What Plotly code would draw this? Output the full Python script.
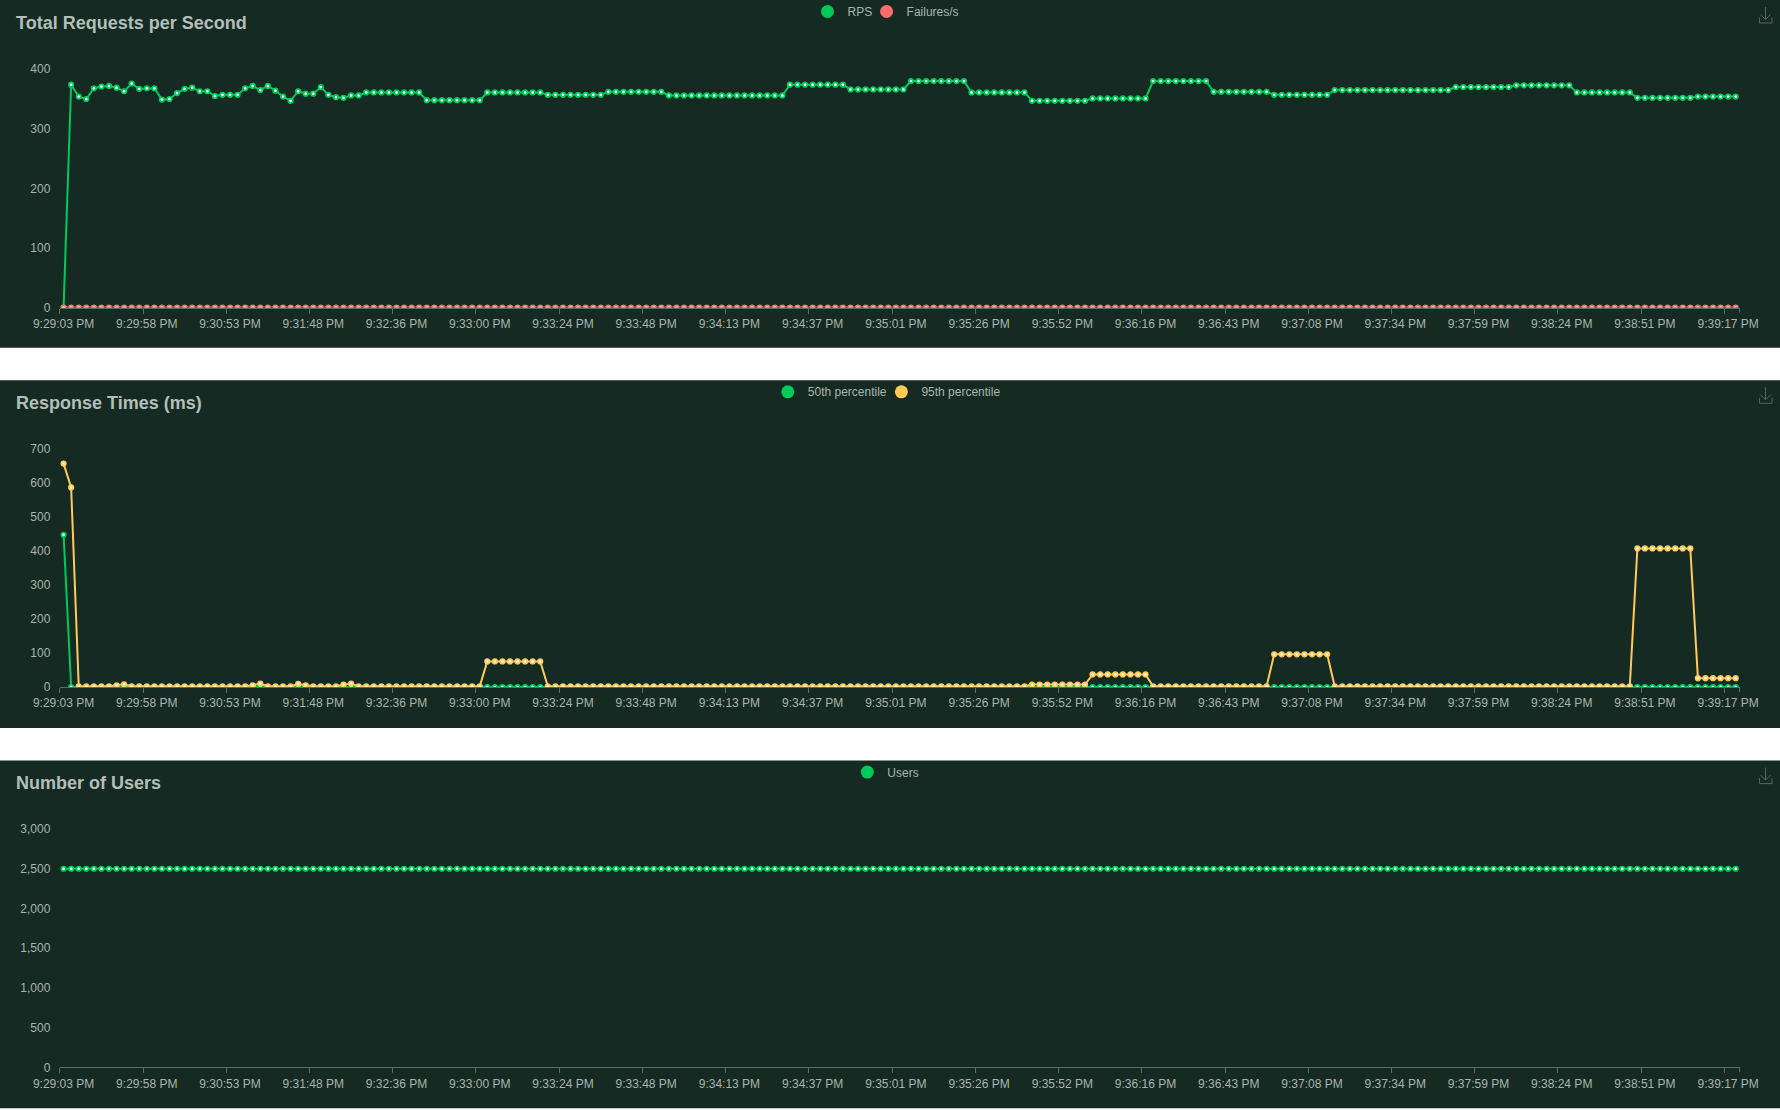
import plotly.graph_objects as go

W, H = 1780, 1110

# ---------------- data ----------------
tick_labels = ["9:29:03 PM", "9:29:58 PM", "9:30:53 PM", "9:31:48 PM", "9:32:36 PM",
               "9:33:00 PM", "9:33:24 PM", "9:33:48 PM", "9:34:13 PM", "9:34:37 PM",
               "9:35:01 PM", "9:35:26 PM", "9:35:52 PM", "9:36:16 PM", "9:36:43 PM",
               "9:37:08 PM", "9:37:34 PM", "9:37:59 PM", "9:38:24 PM", "9:38:51 PM",
               "9:39:17 PM"]
tick_index = [0, 11, 22, 33, 44, 55, 66, 77, 88, 99, 110, 121, 132, 143, 154,
              165, 176, 187, 198, 209, 220]

rps = [
    0, 374, 354, 350, 368, 371, 372, 369, 363, 376, 367,
    368, 368, 349, 350, 360, 367, 369, 363, 363, 355, 357,
    357, 357, 368, 372, 365, 372, 364, 354, 347, 363, 359,
    359, 370, 357, 353, 352, 356, 356, 361, 361, 361, 361,
    361, 361, 361, 361, 348, 348, 348, 348, 348, 348, 348,
    348, 361, 361, 361, 361, 361, 361, 361, 361, 357, 357,
    357, 357, 357, 357, 357, 357, 362, 362, 362, 362, 362,
    362, 362, 362, 356, 356, 356, 356, 356, 356, 356, 356,
    356, 356, 356, 356, 356, 356, 356, 356, 374, 374, 374,
    374, 374, 374, 374, 374, 366, 366, 366, 366, 366, 366,
    366, 366, 380, 380, 380, 380, 380, 380, 380, 380, 361,
    361, 361, 361, 361, 361, 361, 361, 347, 347, 347, 347,
    347, 347, 347, 347, 351, 351, 351, 351, 351, 351, 351,
    351, 380, 380, 380, 380, 380, 380, 380, 380, 362, 362,
    362, 362, 362, 362, 362, 362, 357, 357, 357, 357, 357,
    357, 357, 357, 365, 365, 365, 365, 365, 365, 365, 365,
    365, 365, 365, 365, 365, 365, 365, 365, 370, 370, 370,
    370, 370, 370, 370, 370, 373, 373, 373, 373, 373, 373,
    373, 373, 361, 361, 361, 361, 361, 361, 361, 361, 352,
    352, 352, 352, 352, 352, 352, 352, 354, 354, 354, 354,
    354, 354,
]

failures = [
    0, 0, 0, 0, 0, 0, 0, 0, 0, 0, 0,
    0, 0, 0, 0, 0, 0, 0, 0, 0, 0, 0,
    0, 0, 0, 0, 0, 0, 0, 0, 0, 0, 0,
    0, 0, 0, 0, 0, 0, 0, 0, 0, 0, 0,
    0, 0, 0, 0, 0, 0, 0, 0, 0, 0, 0,
    0, 0, 0, 0, 0, 0, 0, 0, 0, 0, 0,
    0, 0, 0, 0, 0, 0, 0, 0, 0, 0, 0,
    0, 0, 0, 0, 0, 0, 0, 0, 0, 0, 0,
    0, 0, 0, 0, 0, 0, 0, 0, 0, 0, 0,
    0, 0, 0, 0, 0, 0, 0, 0, 0, 0, 0,
    0, 0, 0, 0, 0, 0, 0, 0, 0, 0, 0,
    0, 0, 0, 0, 0, 0, 0, 0, 0, 0, 0,
    0, 0, 0, 0, 0, 0, 0, 0, 0, 0, 0,
    0, 0, 0, 0, 0, 0, 0, 0, 0, 0, 0,
    0, 0, 0, 0, 0, 0, 0, 0, 0, 0, 0,
    0, 0, 0, 0, 0, 0, 0, 0, 0, 0, 0,
    0, 0, 0, 0, 0, 0, 0, 0, 0, 0, 0,
    0, 0, 0, 0, 0, 0, 0, 0, 0, 0, 0,
    0, 0, 0, 0, 0, 0, 0, 0, 0, 0, 0,
    0, 0, 0, 0, 0, 0, 0, 0, 0, 0, 0,
    0, 0,
]

p50 = [
    447, 0, 0, 0, 0, 0, 0, 0, 0, 0, 0,
    0, 0, 0, 0, 0, 0, 0, 0, 0, 0, 0,
    0, 0, 0, 0, 0, 0, 0, 0, 0, 0, 0,
    0, 0, 0, 0, 0, 0, 0, 0, 0, 0, 0,
    0, 0, 0, 0, 0, 0, 0, 0, 0, 0, 0,
    0, 0, 0, 0, 0, 0, 0, 0, 0, 0, 0,
    0, 0, 0, 0, 0, 0, 0, 0, 0, 0, 0,
    0, 0, 0, 0, 0, 0, 0, 0, 0, 0, 0,
    0, 0, 0, 0, 0, 0, 0, 0, 0, 0, 0,
    0, 0, 0, 0, 0, 0, 0, 0, 0, 0, 0,
    0, 0, 0, 0, 0, 0, 0, 0, 0, 0, 0,
    0, 0, 0, 0, 0, 0, 0, 0, 0, 0, 0,
    0, 0, 0, 0, 0, 0, 0, 0, 0, 0, 0,
    0, 0, 0, 0, 0, 0, 0, 0, 0, 0, 0,
    0, 0, 0, 0, 0, 0, 0, 0, 0, 0, 0,
    0, 0, 0, 0, 0, 0, 0, 0, 0, 0, 0,
    0, 0, 0, 0, 0, 0, 0, 0, 0, 0, 0,
    0, 0, 0, 0, 0, 0, 0, 0, 0, 0, 0,
    0, 0, 0, 0, 0, 0, 0, 0, 0, 0, 0,
    0, 0, 0, 0, 0, 0, 0, 0, 0, 0, 0,
    0, 0,
]

p95 = [
    656, 586, 2, 2, 2, 2, 2, 5, 8, 2, 2,
    2, 2, 2, 2, 2, 2, 2, 2, 2, 2, 2,
    2, 2, 2, 5, 10, 2, 2, 2, 2, 9, 5,
    2, 2, 2, 2, 7, 10, 2, 2, 2, 2, 2,
    2, 2, 2, 2, 2, 2, 2, 2, 2, 2, 2,
    2, 75, 75, 75, 75, 75, 75, 75, 75, 2, 2,
    2, 2, 2, 2, 2, 2, 2, 2, 2, 2, 2,
    2, 2, 2, 2, 2, 2, 2, 2, 2, 2, 2,
    2, 2, 2, 2, 2, 2, 2, 2, 2, 2, 2,
    2, 2, 2, 2, 2, 2, 2, 2, 2, 2, 2,
    2, 2, 2, 2, 2, 2, 2, 2, 2, 2, 2,
    2, 2, 2, 2, 2, 2, 2, 7, 7, 7, 7,
    7, 7, 7, 7, 37, 37, 37, 37, 37, 37, 37,
    37, 2, 2, 2, 2, 2, 2, 2, 2, 2, 2,
    2, 2, 2, 2, 2, 2, 96, 96, 96, 96, 96,
    96, 96, 96, 2, 2, 2, 2, 2, 2, 2, 2,
    2, 2, 2, 2, 2, 2, 2, 2, 2, 2, 2,
    2, 2, 2, 2, 2, 2, 2, 2, 2, 2, 2,
    2, 2, 2, 2, 2, 2, 2, 2, 2, 2, 407,
    407, 407, 407, 407, 407, 407, 407, 26, 26, 26, 26,
    26, 26,
]

users = [
    2500, 2500, 2500, 2500, 2500, 2500, 2500, 2500, 2500, 2500, 2500,
    2500, 2500, 2500, 2500, 2500, 2500, 2500, 2500, 2500, 2500, 2500,
    2500, 2500, 2500, 2500, 2500, 2500, 2500, 2500, 2500, 2500, 2500,
    2500, 2500, 2500, 2500, 2500, 2500, 2500, 2500, 2500, 2500, 2500,
    2500, 2500, 2500, 2500, 2500, 2500, 2500, 2500, 2500, 2500, 2500,
    2500, 2500, 2500, 2500, 2500, 2500, 2500, 2500, 2500, 2500, 2500,
    2500, 2500, 2500, 2500, 2500, 2500, 2500, 2500, 2500, 2500, 2500,
    2500, 2500, 2500, 2500, 2500, 2500, 2500, 2500, 2500, 2500, 2500,
    2500, 2500, 2500, 2500, 2500, 2500, 2500, 2500, 2500, 2500, 2500,
    2500, 2500, 2500, 2500, 2500, 2500, 2500, 2500, 2500, 2500, 2500,
    2500, 2500, 2500, 2500, 2500, 2500, 2500, 2500, 2500, 2500, 2500,
    2500, 2500, 2500, 2500, 2500, 2500, 2500, 2500, 2500, 2500, 2500,
    2500, 2500, 2500, 2500, 2500, 2500, 2500, 2500, 2500, 2500, 2500,
    2500, 2500, 2500, 2500, 2500, 2500, 2500, 2500, 2500, 2500, 2500,
    2500, 2500, 2500, 2500, 2500, 2500, 2500, 2500, 2500, 2500, 2500,
    2500, 2500, 2500, 2500, 2500, 2500, 2500, 2500, 2500, 2500, 2500,
    2500, 2500, 2500, 2500, 2500, 2500, 2500, 2500, 2500, 2500, 2500,
    2500, 2500, 2500, 2500, 2500, 2500, 2500, 2500, 2500, 2500, 2500,
    2500, 2500, 2500, 2500, 2500, 2500, 2500, 2500, 2500, 2500, 2500,
    2500, 2500, 2500, 2500, 2500, 2500, 2500, 2500, 2500, 2500, 2500,
    2500, 2500,
]

x_idx = list(range(len(rps)))

# ---------------- styling ----------------
BG = "#152a22"
GREEN = "#00ca5a"
RED = "#ff6d6d"
YELLOW = "#ffca5a"
TXT = "#a9b5ae"
TITLE = "#b3bfb8"
AXIS = "#5d6d64"
FONT = "Liberation Sans, Arial, sans-serif"


def px(xp):
    return xp / W


def py(yp):
    return 1 - yp / H


panels = [(0, 347.7), (380.3, 728.0), (760.6, 1108.3)]
plot_px = [(69.2, 307.6), (448.6, 687.0), (829.0, 1067.4)]
x_left, x_right = 59.8, 1739.5

fig = go.Figure()


def line_trace(y, color, fill, ax, name):
    return go.Scatter(
        x=x_idx, y=y, mode="lines+markers", name=name, showlegend=False,
        line=dict(color=color, width=2),
        marker=dict(size=4.5, color=fill, line=dict(color=color, width=1.7)),
        xaxis="x" + ax, yaxis="y" + ax, hoverinfo="x+y",
    )


def legend_trace(color, name, ax, leg):
    return go.Scatter(
        x=[None], y=[None], mode="markers", name=name, legend=leg,
        marker=dict(size=13, color=color), xaxis="x" + ax, yaxis="y" + ax,
    )


fig.add_trace(line_trace(rps, GREEN, "#e6fff0", "", "RPS"))
fig.add_trace(line_trace(failures, RED, "#ffecec", "", "Failures/s"))
fig.add_trace(legend_trace(GREEN, "RPS", "", "legend"))
fig.add_trace(legend_trace(RED, "Failures/s", "", "legend4"))

fig.add_trace(line_trace(p50, GREEN, "#e6fff0", "2", "50th percentile"))
fig.add_trace(line_trace(p95, YELLOW, "#fff6e0", "2", "95th percentile"))
fig.add_trace(legend_trace(GREEN, "50th percentile", "2", "legend2"))
fig.add_trace(legend_trace(YELLOW, "95th percentile", "2", "legend5"))

fig.add_trace(line_trace(users, GREEN, "#e6fff0", "3", "Users"))
fig.add_trace(legend_trace(GREEN, "Users", "3", "legend3"))

shapes = []
annotations = []
titles = ["Total Requests per Second", "Response Times (ms)", "Number of Users"]
y_ranges = [(0, 400, 100, ""), (0, 700, 100, ""), (0, 3000, 500, ",d")]

layout = dict(
    width=W, height=H, margin=dict(l=0, r=0, t=0, b=0, pad=0, autoexpand=False),
    paper_bgcolor="#ffffff", plot_bgcolor=BG,
    font=dict(family=FONT, color=TXT, size=12),
    hovermode="closest",
)

for i in range(3):
    top, bot = panels[i]
    shapes.append(dict(type="rect", xref="paper", yref="paper", x0=0, x1=1,
                       y0=py(bot), y1=py(top), fillcolor=BG, line=dict(width=0),
                       layer="below"))
    ptop, pbot = plot_px[i]
    suffix = "" if i == 0 else str(i + 1)
    lo, hi, dt, fmt = y_ranges[i]
    layout["xaxis" + suffix] = dict(
        domain=[px(x_left), px(x_right)], range=[-0.5, len(rps) - 0.5],
        anchor="y" + suffix, tickmode="array", tickvals=tick_index,
        ticktext=tick_labels, ticks="outside", ticklen=5,
        tickcolor="rgba(0,0,0,0)", showgrid=False, zeroline=False,
        showline=True, linecolor=AXIS, linewidth=1,
        tickfont=dict(size=12, color=TXT, family=FONT),
        minor=dict(tick0=-0.5, dtick=11, ticks="outside", ticklen=5,
                   tickcolor=AXIS, tickwidth=1, showgrid=False),
        fixedrange=True, automargin=False,
    )
    layout["yaxis" + suffix] = dict(
        domain=[py(pbot), py(ptop)], range=[lo, hi], dtick=dt, tick0=0,
        anchor="x" + suffix, showgrid=False, zeroline=False, showline=False,
        ticks="outside", ticklen=6, tickcolor="rgba(0,0,0,0)",
        tickformat=fmt, tickfont=dict(size=12, color=TXT, family=FONT),
        fixedrange=True, automargin=False,
    )
    # tick at the right end of the axis
    shapes.append(dict(type="line", xref="paper", yref="paper",
                       x0=px(x_right), x1=px(x_right), y0=py(pbot), y1=py(pbot + 5),
                       line=dict(color=AXIS, width=1)))
    # title
    annotations.append(dict(text="<b>" + titles[i] + "</b>", xref="paper", yref="paper",
                            x=px(14), y=py(top + 22.5), xanchor="left", yanchor="middle",
                            showarrow=False, font=dict(size=18, color=TITLE, family=FONT)))
    # download icon
    oy = top
    icon = "#56645c"
    shapes.append(dict(type="path", xref="paper", yref="paper",
                       path="M{},{} L{},{}".format(px(1765.5), py(oy + 7), px(1765.5), py(oy + 19.5)),
                       line=dict(color=icon, width=1)))
    shapes.append(dict(type="path", xref="paper", yref="paper",
                       path="M{},{} L{},{} L{},{}".format(px(1760.5), py(oy + 14.5), px(1765.5), py(oy + 19.5),
                                                         px(1770.5), py(oy + 14.5)),
                       line=dict(color=icon, width=1)))
    shapes.append(dict(type="path", xref="paper", yref="paper",
                       path="M{},{} L{},{} L{},{} L{},{}".format(px(1759.5), py(oy + 17.5), px(1759.5), py(oy + 23),
                                                                px(1772), py(oy + 23), px(1772), py(oy + 17.5)),
                       line=dict(color=icon, width=1)))

# legend boxes: (name, left edge px, panel top px)
legend_pos = [("legend", 807.5, 0), ("legend4", 866.6, 0),
              ("legend2", 767.8, 380.3), ("legend5", 881.4, 380.3),
              ("legend3", 847.3, 760.6)]
for name, left, top in legend_pos:
    layout[name] = dict(
        orientation="h", x=px(left), xanchor="left", y=py(top + 11.5), yanchor="middle",
        bgcolor="rgba(0,0,0,0)", font=dict(size=12, color=TXT, family=FONT),
        itemwidth=30, tracegroupgap=0,
    )

layout["shapes"] = shapes
layout["annotations"] = annotations
fig.update_layout(**layout)

fig.write_html("out.html")
